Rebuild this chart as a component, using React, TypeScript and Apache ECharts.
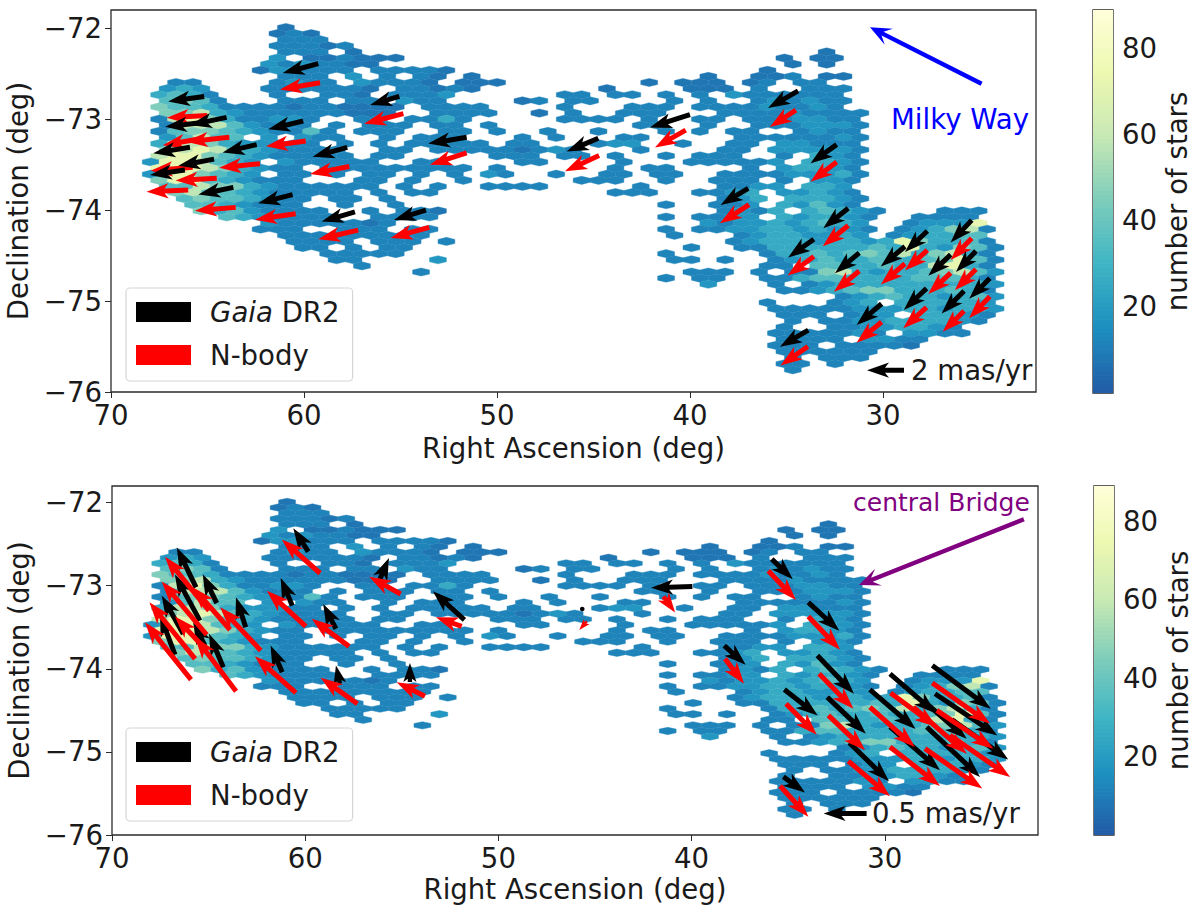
import React, { useEffect, useRef } from "react";
import * as echarts from "echarts";

// Hexbin counts: each row is split in groups of ten columns ("." = empty bin, digit = level).
const hexRows = [
  "........2.",
  "........23 2",
  "........33 3",
  "........33 323",
  "........33 3.2 . . 2",
  "........4. 223222 . ........2. 22",
  ".......434 3322 . ........2. 2",
  ".......244 333.33332. . .......2..",
  "........33 3.4.3.32.2 . ...2..223. 22",
  "..33....34 33.43332.2 22 2.222.23.3 3",
  ".454...333 3332.33232 .......2.. ..222.3..3 33",
  ".5653...3. .332.3334. .....33.33 .3.3.43333 33",
  ".6763...33 3.33.433 ..23.33 .3.3..3434 33",
  ".766533332 332222.333 3....3...3 33.3333433 43",
  ".778543333 33222..333 3..2.3..33 3...333343 333",
  ".389753344 3..33.3353 .....3333. 3..33.3334 433",
  ".388864333 .3.333.33. 3........3 3..3..3334 443",
  ".367765433 63.333..33 .3..3..3.. .3.3.33..3 433",
  ".46866.4.4 33..3.333. ..3.3...33 .....33333 343",
  ".588754443 3.3.3.3333 3.33...344 ..3..33.44 333",
  ".789865433 33..33.333 332343...3 ....33.444 443",
  ".899765433 333.33 .333.33.3. .3.333..3. 543",
  "4998654.43 3333..33 ..33....3. ..333334.5 543",
  ".999875433 .333333333 .3......3. 33....3.45 543",
  "4997654.33 .3.33.3.3. 43..3..33. 33..333344 453",
  ".799654333 ...33.3..3 ......333. .3..333.3. 443",
  ".668775433 3333.3.3 3333.....3 ....3344.5 54",
  "..78665433 333.3.33 ........33 3..3345.44 543",
  "..67665433 .33.3 . ....345.55 543",
  "...6654333 ..3..3 . .3..334.54 643",
  "...7564333 3..3.332 . ....3435.5 6543...333.",
  ".....65433 33..3333 . .3.3344.54 5543..3333.",
  ".......433 33323 . ...4344545 654..34449.",
  ".......333 ..333.33 . .3.3344554 5443.345783",
  "........33 3333333 . .3...34554 454.345566.",
  ".........3 333.333.3. . .....34555 45545975563",
  ".........3 3.3.33 . ..3..33555 55565954763",
  ". .33333 . .3.....355 65676857853",
  ". .33....4.. . .33.3..345 65565567963",
  ". ...3 . .......33. 66556558953",
  ". ......3 . ..333.3.33 78545567864",
  ". . . .3.33..335 66555566653",
  ". . . ...4...3.3 45555555554",
  ". . . ........33 45677555653",
  ". . . . .3456554564",
  ". . . .......3.. .345.555554",
  ". . . .......333 33444554554",
  ". . . ........33 3.344.55543",
  ". . . ........3. 3344555543.",
  ". . . ........3. .33445543..",
  ". . . .......333 3343.4433..",
  ". . . ........33 33.4433",
  ". . . .......333 .33332",
  ". . . ........33 3333",
  ". . . ........3. 333",
  ". . . ........33 .3",
  ". . . ........3.",
];
const levelCounts: Record<string, number> = { "1": 2, "2": 8, "3": 12, "4": 18, "5": 26, "6": 35, "7": 45, "8": 58, "9": 72 };

// Proper motions: [RA deg, Dec deg, u mas/yr (towards larger RA), v mas/yr (north)]
const topGaia = [
  [59.26,-72.39,1.92,-0.51],[65.17,-72.75,1.95,-0.27],[55.06,-72.75,1.58,-0.46],[65.35,-73.04,1.93,-0.22],
  [64.01,-72.98,1.98,-0.42],[60.04,-73.02,1.89,-0.45],[65.91,-73.31,1.98,-0.32],[62.45,-73.28,1.84,-0.42],
  [57.76,-73.31,1.87,-0.51],[64.66,-73.44,1.93,-0.36],[66.17,-73.56,1.89,-0.27],[63.66,-73.75,1.89,-0.39],
  [60.59,-73.83,1.86,-0.47],[57.36,-74.02,1.8,-0.52],[53.68,-74.0,1.73,-0.54],[51.57,-73.2,2.08,-0.34],
  [44.75,-73.21,1.71,-0.72],[40.0,-72.95,2.16,-0.7],[36.98,-73.76,1.49,-0.9],[34.4,-72.69,1.62,-0.92],
  [32.4,-73.28,1.41,-1.01],[31.8,-73.98,1.35,-1.08],[33.58,-74.32,1.39,-0.99],[31.23,-74.47,1.31,-1.1],
  [27.7,-74.23,1.21,-1.14],[28.86,-74.4,1.31,-1.08],[25.4,-74.11,1.14,-1.21],[26.49,-74.49,1.21,-1.14],
  [25.18,-74.45,1.08,-1.14],[24.46,-74.75,1.12,-1.11],[27.74,-74.86,1.23,-1.17],[25.8,-74.89,1.21,-1.22],
  [30.07,-75.03,1.35,-1.15],[33.87,-75.32,1.53,-0.9],
];
const topNbody = [
  [59.17,-72.6,2.16,-0.36],[65.01,-72.96,2.19,-0.12],[54.85,-72.94,2.12,-0.54],[63.87,-73.2,2.34,-0.24],
  [65.23,-73.21,2.18,-0.38],[59.91,-73.24,2.15,-0.29],[62.28,-73.49,2.2,-0.22],[65.77,-73.53,2.27,-0.18],
  [57.65,-73.52,2.12,-0.41],[64.52,-73.65,2.22,-0.12],[66.0,-73.78,2.25,-0.09],[63.54,-73.97,2.2,-0.18],
  [60.43,-74.04,2.2,-0.32],[57.19,-74.22,2.16,-0.49],[53.51,-74.19,2.09,-0.57],[51.57,-73.37,1.98,-0.65],
  [44.71,-73.4,1.84,-0.85],[40.22,-73.12,1.66,-0.94],[36.94,-73.94,1.57,-1.01],[34.51,-72.9,1.41,-0.92],
  [32.4,-73.47,1.41,-1.08],[31.8,-74.17,1.38,-1.12],[33.58,-74.51,1.42,-1.03],[31.23,-74.67,1.37,-1.12],
  [27.7,-74.44,1.21,-1.1],[28.86,-74.59,1.3,-1.12],[25.4,-74.31,1.14,-1.17],[26.49,-74.69,1.21,-1.14],
  [25.18,-74.65,1.14,-1.14],[24.46,-74.95,1.12,-1.17],[27.74,-75.07,1.26,-1.12],[25.8,-75.11,1.15,-1.12],
  [30.07,-75.23,1.35,-1.12],[33.89,-75.5,1.48,-1.03],
];
const bottomGaia = [
  [59.84,-72.59,0.174,0.271],[65.65,-73.02,0.224,0.465],[64.58,-73.21,0.163,0.337],[65.45,-73.42,0.291,0.535],
  [66.31,-73.58,0.251,0.445],[60.67,-73.24,0.135,0.322],[63.08,-73.5,0.113,0.349],[66.74,-73.83,0.174,0.465],
  [58.41,-73.52,0.148,0.291],[65.19,-73.72,0.136,0.271],[64.24,-73.98,0.166,0.388],[61.19,-74.04,0.135,0.31],
  [58.2,-74.18,0.047,0.213],[54.58,-74.16,0,0.221],[56.13,-72.92,-0.105,0.244],[51.76,-73.41,0.367,0.333],
  [45.66,-73.28,0,0],[39.96,-73.01,0.48,-0.015],[38.31,-73.72,-0.249,-0.224],[35.85,-72.68,-0.244,-0.233],
  [33.96,-73.2,-0.36,-0.329],[33.49,-73.84,-0.427,-0.445],[35.2,-74.25,-0.388,-0.302],[32.98,-74.34,-0.45,-0.426],
  [30.77,-74.25,-0.531,-0.457],[29.73,-74.06,-0.531,-0.458],[27.54,-73.96,-0.679,-0.503],[27.4,-74.3,-0.724,-0.485],
  [26.54,-74.61,-0.658,-0.465],[29.73,-74.7,-0.581,-0.503],[27.83,-74.7,-0.62,-0.581],[31.84,-74.89,-0.462,-0.447],
  [35.25,-75.3,-0.252,-0.183],[27.83,-74.42,-0.465,-0.407],
];
const bottomNbody = [
  [59.23,-72.85,0.445,0.392],[64.98,-73.3,0.512,0.628],[65.1,-73.59,0.523,0.62],[63.89,-73.53,0.434,0.495],
  [65.7,-73.88,0.531,0.658],[65.91,-74.13,0.535,0.666],[62.3,-73.78,0.473,0.503],[63.58,-74.27,0.477,0.631],
  [65.1,-73.78,0.369,0.395],[59.97,-73.49,0.453,0.415],[57.73,-73.73,0.434,0.322],[60.48,-74.29,0.477,0.426],
  [57.3,-74.42,0.426,0.302],[53.8,-74.33,0.329,0.163],[55.06,-73.1,0.365,0.201],[51.9,-73.49,0.299,0.108],
  [45.43,-73.43,0.086,-0.1],[41.46,-73.13,-0.136,-0.186],[38.27,-73.88,-0.221,-0.291],[36.03,-72.82,-0.322,-0.341],
  [33.96,-73.37,-0.369,-0.387],[33.4,-74.06,-0.399,-0.407],[35.11,-74.42,-0.357,-0.36],[32.92,-74.56,-0.427,-0.407],
  [30.77,-74.46,-0.523,-0.465],[29.7,-74.29,-0.535,-0.395],[27.54,-74.17,-0.671,-0.472],[27.31,-74.5,-0.658,-0.445],
  [26.62,-74.8,-0.698,-0.485],[29.73,-74.94,-0.581,-0.453],[27.92,-74.96,-0.666,-0.465],[31.89,-75.11,-0.485,-0.41],
  [35.42,-75.41,-0.329,-0.357],[28.52,-74.46,-0.621,-0.542],
];
const topKey = [[28.91, -75.76, 2, 0]];
const bottomKey = [[30.94, -75.74, 0.5, 0]];
// Annotation arrows: [tail RA, tail Dec, tip RA, tip Dec]
const milkyWayArrow = [[24.89, -72.61, 30.67, -71.99]];
const bridgeArrow = [[22.8, -72.2, 31.34, -72.99]];

const raTicks = [70, 60, 50, 40, 30];
const decTicks = [-76, -75, -74, -73, -72];
const colorbarTicks = [20, 40, 60, 80];
const colorbarLevels = Array.from({ length: 89 }, (_, i) => i);
const COUNT_MAX = 89;
const cmap = ["#225ea8", "#1d91c0", "#41b6c4", "#7fcdbb", "#c7e9b4", "#edf8b1", "#ffffd9"];

const FONT = "DejaVu Sans";
const FS = 27.6;
const TXT = "#1a1a1a";
const colorOf = (v: number) => echarts.color.lerp(Math.min(1, Math.max(0, (v - 1) / (COUNT_MAX - 1))), cmap);

// Hexbin grid geometry in degrees
const RA_EVEN = 67.943, RA_ODD = 68.38, RA_STEP = 0.8756, DEC_TOP = -71.992, DEC_STEP = 0.06722;
const hexData: number[][] = [];
hexRows.forEach((row, r) => {
  row.split(" ").forEach((group, g) => {
    for (let k = 0; k < group.length; k++) {
      const n = levelCounts[group[k]];
      if (n === undefined) continue;
      const c = g * 10 + k;
      hexData.push([(r % 2 ? RA_ODD : RA_EVEN) - RA_STEP * c, DEC_TOP - DEC_STEP * r, n]);
    }
  });
});

const hexItem = (_: any, api: any) => {
  const x = api.value(0), y = api.value(1), v = api.value(2);
  const hw = RA_STEP / 2, a = DEC_STEP * 2 / 3, b = DEC_STEP / 3;
  const pts = [[x + hw, y - b], [x + hw, y + b], [x, y + a], [x - hw, y + b], [x - hw, y - b], [x, y - a]].map((p) => api.coord(p));
  const col = colorOf(v);
  return { type: "polygon", shape: { points: pts }, style: { fill: col, stroke: col, lineWidth: 0.4 } };
};

function arrowPoly(tx: number, ty: number, dx: number, dy: number, w: number, hl: number, hal: number, hw: number) {
  const L = Math.hypot(dx, dy);
  const f = Math.min(1, L / hl);
  const ux = dx / L, uy = dy / L, nx = -uy, ny = ux;
  const at = (along: number, side: number) => [tx + ux * along + nx * side, ty + uy * along + ny * side];
  const W = (w / 2) * f, H = hw * f, HL = hl * f, HA = hal * f;
  return [at(0, W), at(L - HA, W), at(L - HL, H), at(L, 0), at(L - HL, -H), at(L - HA, -W), at(0, -W)];
}

const quiverItem = (scale: number, color: string) => (_: any, api: any) => {
  const p = api.coord([api.value(0), api.value(1)]);
  const dx = -api.value(2) * scale, dy = -api.value(3) * scale;
  if (Math.hypot(dx, dy) < 3) {
    return { type: "circle", shape: { cx: p[0], cy: p[1], r: 2.3 }, style: { fill: color } };
  }
  return { type: "polygon", shape: { points: arrowPoly(p[0], p[1], dx, dy, 5, 22, 18, 7.6) }, style: { fill: color } };
};

const annotItem = (color: string) => (_: any, api: any) => {
  const a = api.coord([api.value(0), api.value(1)]);
  const b = api.coord([api.value(2), api.value(3)]);
  return { type: "polygon", shape: { points: arrowPoly(a[0], a[1], b[0] - a[0], b[1] - a[1], 4.4, 21, 14, 9) }, style: { fill: color } };
};

const colorbarItem = (_: any, api: any) => {
  const v = api.value(0);
  const a = api.coord([0, v]), b = api.coord([1, v + 1]);
  const col = colorOf(v + 0.5);
  const over = v + 1 < COUNT_MAX ? 0.7 : 0;
  return { type: "rect", shape: { x: a[0], y: b[1] - over, width: b[0] - a[0], height: a[1] - b[1] + over }, style: { fill: col } };
};

const minus = (v: number) => String(v).replace("-", "\u2212");
const AXIS = "#2b2b2b";

function valueAxes(gridIndex: number, xNameGap: number) {
  const common = { gridIndex, type: "value" as const, nameLocation: "middle" as const, splitLine: { show: false }, axisLine: { show: false }, nameTextStyle: { fontFamily: FONT, fontSize: FS, color: TXT } };
  const tick = { show: true, length: 6, lineStyle: { color: AXIS, width: 1 } };
  return {
    x: { ...common, min: 22.07, max: 70, inverse: true, name: "Right Ascension (deg)", nameGap: xNameGap,
      axisTick: { ...tick, customValues: raTicks },
      axisLabel: { customValues: raTicks, fontFamily: FONT, fontSize: FS, color: TXT, margin: 9, formatter: minus } },
    y: { ...common, min: -76, max: -71.8, name: "Declination (deg)", nameGap: 75,
      axisTick: { ...tick, customValues: decTicks },
      axisLabel: { customValues: decTicks, fontFamily: FONT, fontSize: FS, color: TXT, margin: 9, formatter: minus } },
  };
}

function colorbarAxes(gridIndex: number) {
  return {
    x: { gridIndex, type: "value" as const, min: 0, max: 1, show: false },
    y: { gridIndex, type: "value" as const, position: "right" as const, min: 0, max: COUNT_MAX, name: "number of stars", nameLocation: "middle" as const, nameRotate: 90, nameGap: 50,
      nameTextStyle: { fontFamily: FONT, fontSize: FS, color: TXT },
      splitLine: { show: false }, axisLine: { show: false },
      axisTick: { show: true, length: 6, lineStyle: { color: AXIS, width: 1 }, customValues: colorbarTicks },
      axisLabel: { customValues: colorbarTicks, fontFamily: FONT, fontSize: FS, color: TXT, margin: 9 } },
  };
}

const panelGrid = (left: number, top: number, width: number, height: number) => ({ left, top, width, height, show: true, borderColor: AXIS, borderWidth: 1.3, backgroundColor: "transparent", outerBoundsMode: "none" as const });

const customBase = (name: string | undefined, idx: number, renderItem: any, data: any, color?: string) => ({
  type: "custom" as const, name, xAxisIndex: idx, yAxisIndex: idx, coordinateSystem: "cartesian2d" as const, renderItem, data,
  encode: { x: 0, y: 1 }, silent: true, clip: false, itemStyle: color ? { color } : undefined,
});

const legendOf = (left: number, top: number) => ({
  left, top, orient: "vertical" as const, selectedMode: false, itemWidth: 55, itemHeight: 20, itemGap: 15, padding: [10, 13, 12, 10],
  backgroundColor: "rgba(255,255,255,0.85)", borderColor: "#d6d6d6", borderWidth: 1.2, borderRadius: 4,
  data: [{ name: "Gaia DR2", icon: "rect" }, { name: "N-body", icon: "rect" }],
  formatter: (n: string) => (n === "Gaia DR2" ? "{i|Gaia} {r|DR2}" : "{r|N-body}"),
  textStyle: { fontFamily: FONT, fontSize: FS, color: TXT, padding: [0, 0, 0, 14],
    rich: { i: { fontFamily: FONT, fontSize: FS, fontStyle: "italic", color: TXT }, r: { fontFamily: FONT, fontSize: FS, color: TXT } } },
});

const annotationText = (text: string, x: number, y: number, color: string, fontSize: number) => ({
  type: "text" as const, x, y, z: 20, silent: true,
  style: { text, fill: color, fontFamily: FONT, fontSize, textAlign: "left" as const, textVerticalAlign: "middle" as const },
});

export default function App() {
  const ref = useRef<HTMLDivElement>(null);
  useEffect(() => {
    const chart = echarts.init(ref.current!, undefined, { renderer: "svg" });
    const a0 = valueAxes(0, 42), a1 = valueAxes(1, 40), c0 = colorbarAxes(2), c1 = colorbarAxes(3);
    chart.setOption({
      animation: false,
      backgroundColor: "#fff",
      grid: [panelGrid(111, 10, 925, 382), panelGrid(112, 486, 926, 349), panelGrid(1093, 10, 20, 383), panelGrid(1094, 486, 20, 349)],
      xAxis: [a0.x, a1.x, c0.x, c1.x],
      yAxis: [a0.y, a1.y, c0.y, c1.y],
      legend: [legendOf(126, 288), legendOf(126, 728)],
      series: [
        customBase(undefined, 0, hexItem, hexData),
        customBase(undefined, 1, hexItem, hexData),
        customBase("N-body", 0, quiverItem(18.5, "#ff0000"), topNbody, "#ff0000"),
        customBase("Gaia DR2", 0, quiverItem(18.5, "#000000"), topGaia, "#000000"),
        customBase("Gaia DR2", 1, quiverItem(86, "#000000"), bottomGaia, "#000000"),
        customBase("N-body", 1, quiverItem(86, "#ff0000"), bottomNbody, "#ff0000"),
        customBase(undefined, 0, quiverItem(18.5, "#000000"), topKey),
        customBase(undefined, 1, quiverItem(86, "#000000"), bottomKey),
        customBase(undefined, 0, annotItem("#0000ff"), milkyWayArrow),
        customBase(undefined, 1, annotItem("#800080"), bridgeArrow),
        { ...customBase(undefined, 2, colorbarItem, colorbarLevels.map((v) => [v])), encode: { y: 0 } },
        { ...customBase(undefined, 3, colorbarItem, colorbarLevels.map((v) => [v])), encode: { y: 0 } },
      ],
      graphic: [
        annotationText("Milky Way", 891, 119, "#0000ff", FS),
        annotationText("2 mas/yr", 911, 370, TXT, FS),
        annotationText("central Bridge", 853, 502, "#800080", 25),
        annotationText("0.5 mas/yr", 872, 813, TXT, FS),
      ],
    });
    return () => chart.dispose();
  }, []);
  return <div ref={ref} style={{ position: "absolute", left: 0, top: 0, width: 1200, height: 915 }} />;
}
